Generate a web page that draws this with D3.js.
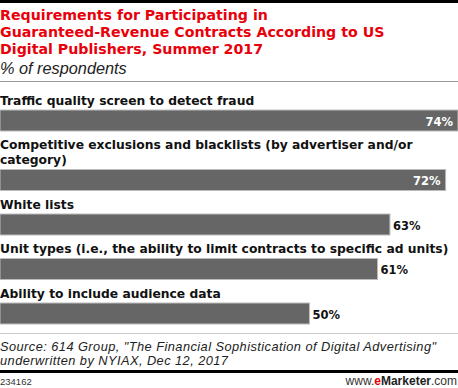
<!DOCTYPE html>
<html>
<head>
<meta charset="utf-8">
<script src="https://cdn.jsdelivr.net/npm/d3@7"></script>
<style>
  body { margin: 0; background: #fff; }
  svg { display: block; font-family: "DejaVu Sans", Verdana, sans-serif; }
  .title { fill: #e8000b; font-weight: bold; font-size: 14.2px; }
  .subtitle { fill: #222; font-style: italic; font-size: 16.3px; font-family: "Liberation Sans", Arial, sans-serif; }
  .catLabel { fill: #111; font-weight: bold; font-size: 12.3px; }
  .valLabel { font-weight: bold; font-size: 11.5px; }
  .source { fill: #222; font-style: italic; font-size: 12.8px; letter-spacing: 0.45px; font-family: "Liberation Sans", Arial, sans-serif; }
  .footer { fill: #333; font-size: 9.5px; font-family: "Liberation Sans", Arial, sans-serif; }
  .brand { fill: #333; font-size: 12px; font-family: "Liberation Sans", Arial, sans-serif; }
</style>
</head>
<body>
<div class="container"></div>
<script>
(function(){

var categories = [
  ["Traffic quality screen to detect fraud"],
  ["Competitive exclusions and blacklists (by advertiser and/or", "category)"],
  ["White lists"],
  ["Unit types (i.e., the ability to limit contracts to specific ad units)"],
  ["Ability to include audience data"]
];
var values = [74, 72, 63, 61, 50];
var titleLines = [
  "Requirements for Participating in",
  "Guaranteed-Revenue Contracts According to US",
  "Digital Publishers, Summer 2017"
];
var subtitle = "% of respondents";
var sourceLines = [
  "Source: 614 Group, \"The Financial Sophistication of Digital Advertising\"",
  "underwritten by NYIAX, Dec 12, 2017"
];
var chartId = "234162";

var width = 458,
    height = 388,
    barHeight = 21,
    lineHeight = 15;

var svg = d3.select(".container")
  .append("svg")
  .attr("width", width)
  .attr("height", height);

// top black rule
svg.append("rect")
  .attr("x", 0).attr("y", 0)
  .attr("width", width).attr("height", 3)
  .attr("fill", "#000");

svg.selectAll(".title")
  .data(titleLines)
  .enter()
  .append("text")
  .attr("class", "title")
  .attr("x", 0)
  .attr("y", function(d, i){ return 20 + i * 17; })
  .text(function(d){ return d; });

svg.append("text")
  .attr("class", "subtitle")
  .attr("x", 0)
  .attr("y", 74)
  .text(subtitle);

svg.append("line")
  .attr("x1", 0).attr("x2", width)
  .attr("y1", 81.5).attr("y2", 81.5)
  .attr("stroke", "#999")
  .attr("stroke-width", 1);

var xScale = d3.scaleLinear()
  .domain([0, d3.max(values)])
  .range([0, width]);

// stack rows: label line(s), then bar under them
var rows = [];
var baseline = 104.5;
categories.forEach(function(lines, i){
  var first = baseline;
  var barY = first + (lines.length - 1) * lineHeight + 5.5;
  rows.push({ lines: lines, value: values[i], first: first, barY: barY });
  baseline = barY + barHeight + 18;
});

var row = svg.selectAll(".row")
  .data(rows)
  .enter()
  .append("g")
  .attr("class", "row");

row.selectAll(".catLabel")
  .data(function(d){ return d.lines.map(function(l, j){ return { text: l, y: d.first + j * lineHeight }; }); })
  .enter()
  .append("text")
  .attr("class", "catLabel")
  .attr("x", 0)
  .attr("y", function(d){ return d.y; })
  .text(function(d){ return d.text; });

row.append("rect")
  .attr("class", "bar")
  .attr("x", 0)
  .attr("y", function(d){ return d.barY; })
  .attr("width", function(d){ return xScale(d.value); })
  .attr("height", barHeight)
  .attr("fill", "#666")
  .attr("stroke", "#bbb")
  .attr("stroke-width", 1);

function inside(d){ return xScale(d.value) > 420; }

row.append("text")
  .attr("class", "valLabel")
  .attr("x", function(d){
    var w = xScale(d.value);
    return inside(d) ? w - 5 : w + 3;
  })
  .attr("y", function(d){ return d.barY + 15.5; })
  .attr("text-anchor", function(d){ return inside(d) ? "end" : "start"; })
  .attr("fill", function(d){ return inside(d) ? "#fff" : "#111"; })
  .text(function(d){ return d.value + "%"; });

svg.append("line")
  .attr("x1", 0).attr("x2", width)
  .attr("y1", 333.5).attr("y2", 333.5)
  .attr("stroke", "#ccc")
  .attr("stroke-width", 1);

svg.selectAll(".source")
  .data(sourceLines)
  .enter()
  .append("text")
  .attr("class", "source")
  .attr("x", 0)
  .attr("y", function(d, i){ return 350.5 + i * 14.5; })
  .text(function(d){ return d; });

svg.append("rect")
  .attr("x", 0).attr("y", 370)
  .attr("width", width).attr("height", 3)
  .attr("fill", "#000");

svg.append("text")
  .attr("class", "footer")
  .attr("x", 0)
  .attr("y", 385)
  .text(chartId);

var brand = svg.append("text")
  .attr("class", "brand")
  .attr("x", width - 1)
  .attr("y", 385)
  .attr("text-anchor", "end");
brand.append("tspan").text("www.");
brand.append("tspan").attr("fill", "#e8000b").attr("font-weight", "bold").text("e");
brand.append("tspan").attr("fill", "#222").attr("font-weight", "bold").text("Marketer");
brand.append("tspan").text(".com");

})();
</script>
</body>
</html>
